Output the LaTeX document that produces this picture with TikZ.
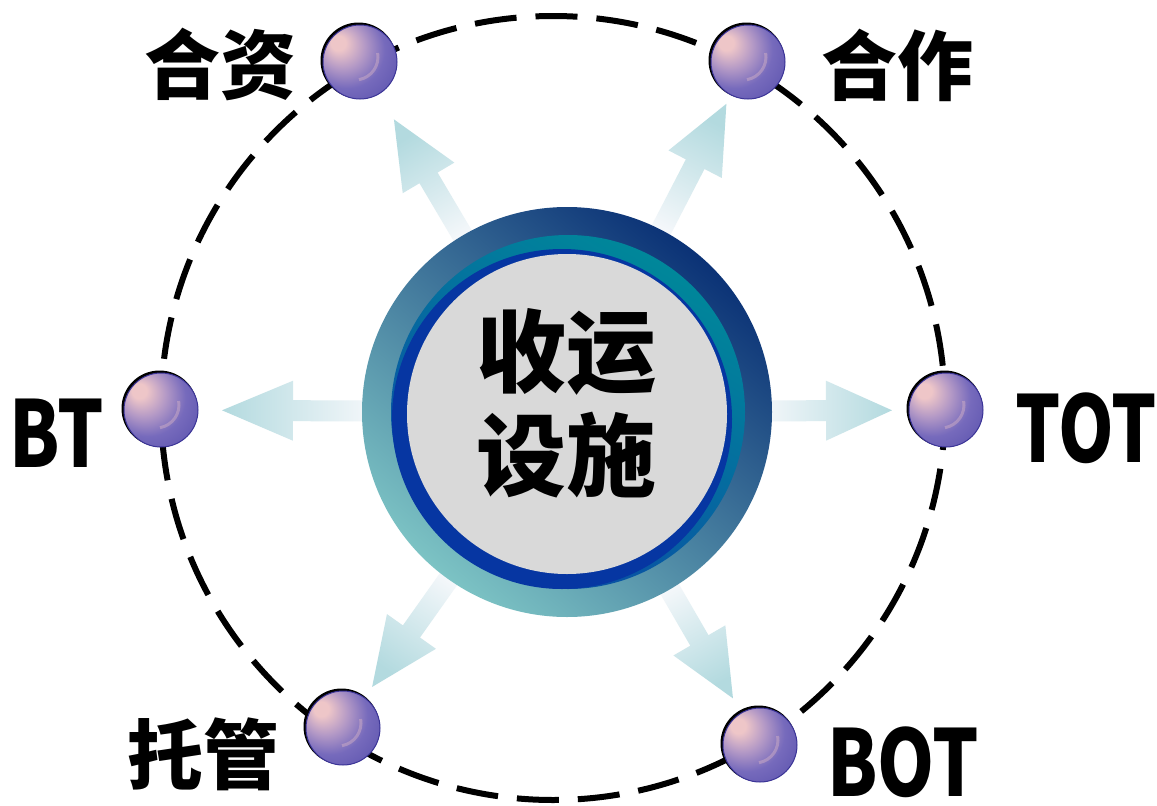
\documentclass[tikz,border=0pt]{standalone}
\usepackage{fontspec}
\usepackage{graphicx}
\newfontfamily\cjk{Noto Sans CJK SC}
\usetikzlibrary{calc}
\definecolor{arrowA}{HTML}{F6F8FB}
\definecolor{arrowB}{HTML}{B3DADF}
\definecolor{hubDark}{HTML}{0B3276}
\definecolor{hubMid}{HTML}{3A7FA2}
\definecolor{hubLight}{HTML}{7CC3C4}
\definecolor{tealRing}{HTML}{00879A}
\definecolor{tealRingB}{HTML}{0A4AA6}
\definecolor{blueRing}{HTML}{0636A2}
\definecolor{hubGray}{HTML}{D9D9D9}
\definecolor{sphA}{HTML}{EEC6C8}
\definecolor{sphB}{HTML}{B59AC6}
\definecolor{sphC}{HTML}{766ABC}
\definecolor{sphD}{HTML}{5951AC}
\definecolor{sphE}{HTML}{3B3497}
\pgfdeclareradialshading{sph}{\pgfpoint{-16bp}{14bp}}{color(0bp)=(sphA); color(5bp)=(sphA); color(15bp)=(sphB); color(26bp)=(sphC); color(42bp)=(sphD); color(62bp)=(sphE)}
\tikzset{
  ring/.style={line width=6pt, black, dash pattern=on 42pt off 19pt},
  ball/.style={circle, minimum size=74pt, inner sep=0pt, shading=sph, draw=sphE, line width=1pt,
    path picture={\draw[sphA, opacity=.35, line width=3pt] ([shift={(-5,-5)}]path picture bounding box.center) ++(-10:23) arc[start angle=-10, end angle=80, radius=23];}},
  ballshadow/.style={circle, minimum size=76pt, inner sep=0pt, fill=black},
  spokeshade/.style={top color=arrowB, bottom color=arrowA},
  lab/.style={inner sep=0pt, font=\cjk\bfseries\fontsize{76}{80}\selectfont},
  latin/.style={inner sep=0pt, font=\cjk\bfseries\fontsize{92}{96}\selectfont},
  hubtext/.style={inner sep=0pt, font=\cjk\bfseries\fontsize{90}{96}\selectfont}
}
\newcommand\spoke[4]{%
  \coordinate (#1-s) at ($(c)!190pt!(#1)$);
  \coordinate (#1-h) at ($(c)!#3!(#1)$);
  \coordinate (#1-t) at ($(c)!#2!(#1)$);
  \shade[spokeshade, shading angle=#4] ($(#1-s)!10.5pt!90:(#1)$) -- ($(#1-h)!10.5pt!90:(#1)$) -- ($(#1-h)!30pt!90:(#1)$) -- (#1-t) -- ($(#1-h)!30pt!-90:(#1)$) -- ($(#1-h)!10.5pt!-90:(#1)$) -- ($(#1-s)!10.5pt!-90:(#1)$) -- cycle;}
\newcommand\orb[2]{%
  \node[ballshadow] at ($#2+(-1.5,-1.5)$) {};
  \node[ball] (#1) at #2 {};}
\begin{document}
\begin{tikzpicture}[x=1pt,y=-1pt]
\useasboundingbox (0,0) rectangle (1157,806);
\fill[white] (0,0) rectangle (1157,806);
\coordinate (c) at (567,412);
% dashed orbit
\draw[ring] (553,408) circle[radius=392];
% balls
\orb{hz}{(360,62)}
\orb{hzo}{(748,62)}
\orb{bt}{(161,410)}
\orb{tot}{(946,410)}
\orb{tg}{(343,728)}
\orb{bot}{(760,745)}
% arrows
\spoke{hz}{340pt}{272pt}{31}
\spoke{hzo}{347pt}{279pt}{-28}
\spoke{bt}{345pt}{274pt}{90}
\spoke{tot}{325pt}{259pt}{-90}
\spoke{tg}{337pt}{269pt}{145}
\spoke{bot}{331pt}{264pt}{210}
% hub
\shade[top color=hubDark, middle color=hubMid, bottom color=hubLight, shading angle=-40] (567,412) circle[radius=205];
\shade[top color=tealRing, bottom color=tealRingB, shading angle=-30] (568,412) circle[radius=177];
\fill[blueRing] (562,419) circle[radius=170];
\node[circle, fill=hubGray, minimum size=320pt, inner sep=0pt] (hub) at (567,414) {};
\node[hubtext] (t1) at (566,352) {收运};
\node[hubtext] (t2) at (566,455) {设施};
% labels
\node[lab] (l1) at (220,64) {合资};
\node[lab] (l2) at (897,65) {合作};
\node[lab] (l3) at (203,754) {托管};
\node[latin] (l4) at (57,433) {\scalebox{0.79}[1]{BT}};
\node[latin] (l5) at (1086,428) {\scalebox{0.77}[1]{TOT}};
\node[latin] (l6) at (903,762) {\scalebox{0.79}[1]{BOT}};
\end{tikzpicture}
\end{document}
